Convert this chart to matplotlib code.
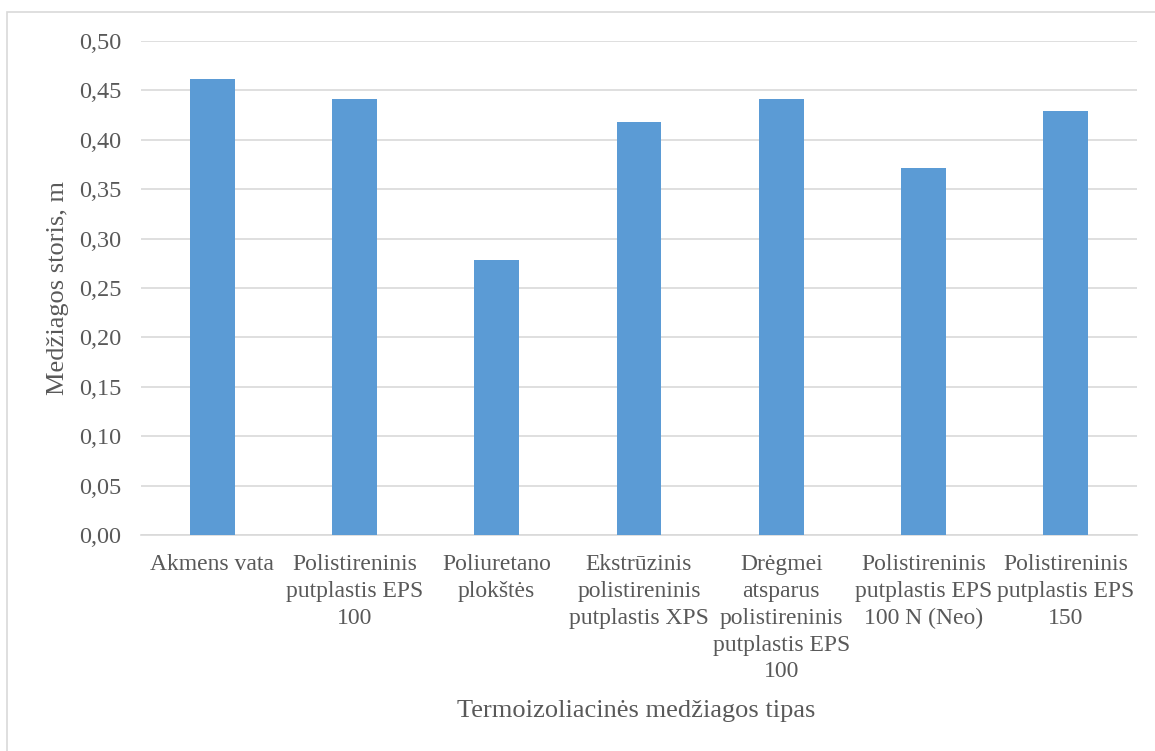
import matplotlib.pyplot as plt
import numpy as np
from matplotlib.ticker import FuncFormatter

# data
categories = [
    "Akmens vata",
    "Polistireninis\nputplastis EPS\n100",
    "Poliuretano\nplokštės",
    "Ekstrūzinis\npolistireninis\nputplastis XPS",
    "Drėgmei\natsparus\npolistireninis\nputplastis EPS\n100",
    "Polistireninis\nputplastis EPS\n100 N (Neo)",
    "Polistireninis\nputplastis EPS\n150",
]
thickness = [0.462, 0.441, 0.278, 0.418, 0.441, 0.371, 0.429]
y_ticks = [0.00, 0.05, 0.10, 0.15, 0.20, 0.25, 0.30, 0.35, 0.40, 0.45, 0.50]

text_color = "#595959"
plt.rcParams['font.family'] = ['Liberation Serif', 'DejaVu Serif']

fig = plt.figure(figsize=(11.55, 7.51), dpi=100)
ax = fig.add_axes([141 / 1155, 1 - 535 / 751, (1137 - 141) / 1155, (535 - 41) / 751])

x = np.arange(len(categories))
ax.bar(x, thickness, width=0.315, color="#5b9bd5", zorder=3)

ax.set_xlim(-0.5, len(categories) - 0.5)
ax.set_ylim(0, 0.5)
ax.set_yticks(y_ticks)
ax.yaxis.set_major_formatter(FuncFormatter(lambda v, p: f"{v:.2f}".replace(".", ",")))
ax.set_xticks(x)
ax.set_xticklabels(categories, linespacing=1.36)

ax.grid(axis="y", color="#d9d9d9", linewidth=1.2, zorder=0)
for side in ["top", "right", "left"]:
    ax.spines[side].set_visible(False)
ax.spines["bottom"].set_color("#d9d9d9")
ax.spines["bottom"].set_linewidth(1.2)
ax.tick_params(axis="both", length=0, colors=text_color)
ax.tick_params(axis="x", pad=14, labelsize=17)
ax.tick_params(axis="y", pad=14, labelsize=17.5)

fig.text(636 / 1155, 1 - 711 / 751, "Termoizoliacinės medžiagos tipas",
         ha="center", va="center", fontsize=19, color=text_color)
fig.text(58 / 1155, 1 - 288 / 751, "Medžiagos storis, m", rotation=90,
         ha="center", va="center", fontsize=19, color=text_color)

# outer chart border
border = plt.Rectangle((7 / 1155, -0.01), 1.2, 1 - 12 / 751 + 0.01, transform=fig.transFigure,
                       fill=False, edgecolor="#d9d9d9", linewidth=1.2)
fig.patches.append(border)

fig.savefig("out.png", dpi=100)
